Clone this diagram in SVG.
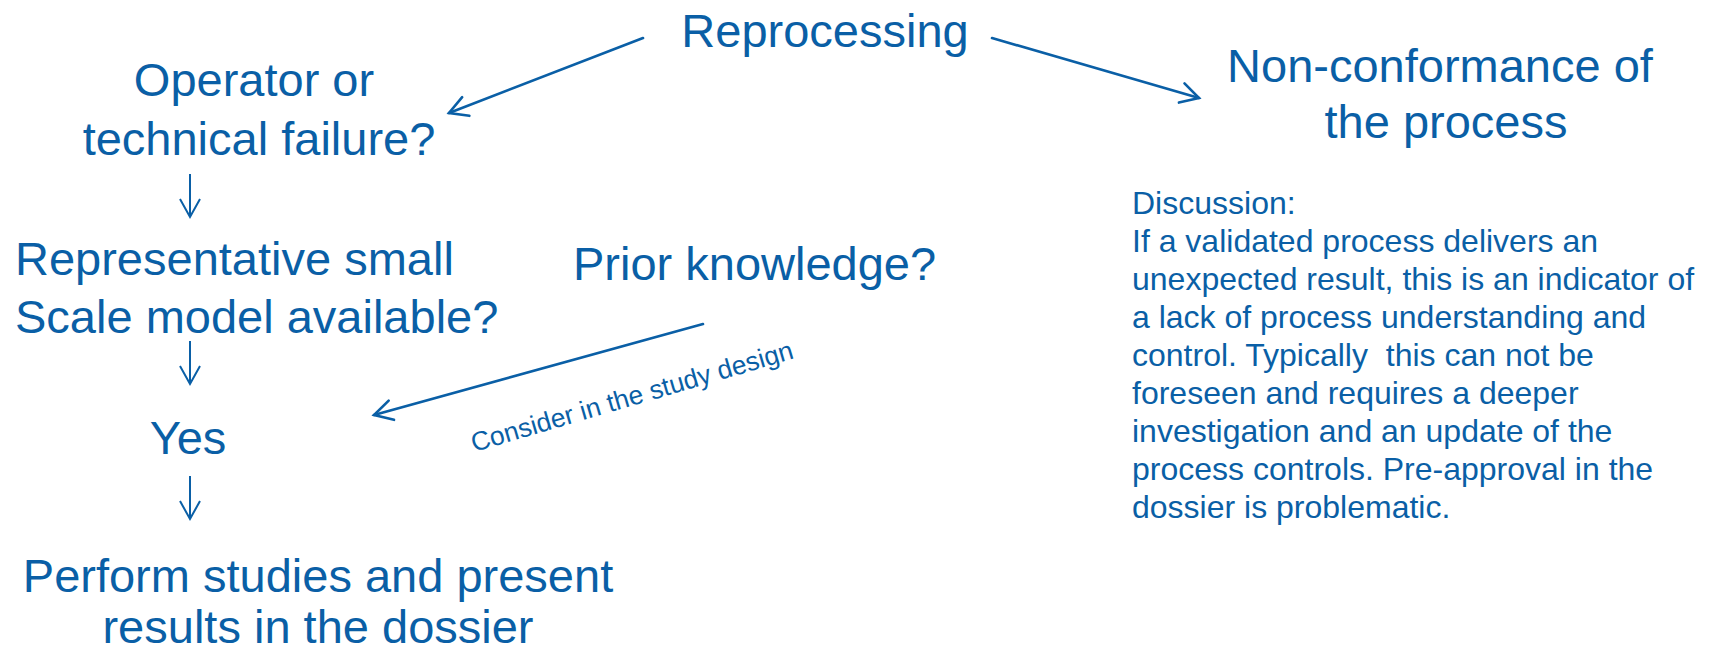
<svg xmlns="http://www.w3.org/2000/svg" width="1710" height="653" viewBox="0 0 1710 653">
  <style>
    text { font-family: "Liberation Sans", Arial, sans-serif; fill: #0a5fa6; white-space: pre; }
    .big { font-size: 47px; }
    .mid { text-anchor: middle; }
    .note { font-size: 32px; }
    .small { font-size: 26.5px; }
    .link { fill: none; stroke: #0a5fa6; stroke-width: 2.6; stroke-linecap: round; }
    .step { fill: none; stroke: #0a5fa6; stroke-width: 2; }
  </style>
  <defs>
    <marker id="head" markerUnits="userSpaceOnUse" markerWidth="40" markerHeight="40" refX="0" refY="0" orient="auto" overflow="visible">
      <path d="M -18 -10 L 0 0 L -18 10" fill="none" stroke="#0a5fa6" stroke-width="2.6" stroke-linecap="round" stroke-linejoin="miter"/>
    </marker>
    <marker id="headThin" markerUnits="userSpaceOnUse" markerWidth="40" markerHeight="40" refX="0" refY="0" orient="auto" overflow="visible">
      <path d="M -18 -10 L 0 0 L -18 10" fill="none" stroke="#0a5fa6" stroke-width="2" stroke-linejoin="miter"/>
    </marker>
  </defs>

  <rect width="1710" height="653" fill="#ffffff"/>

  <g id="connectors">
    <line class="link" x1="643" y1="38" x2="449" y2="113" marker-end="url(#head)"/>
    <line class="link" x1="992" y1="38" x2="1199" y2="98" marker-end="url(#head)"/>
    <line class="step" x1="190" y1="174" x2="190" y2="217" marker-end="url(#headThin)"/>
    <line class="step" x1="190" y1="341" x2="190" y2="384" marker-end="url(#headThin)"/>
    <line class="step" x1="190" y1="476" x2="190" y2="519" marker-end="url(#headThin)"/>
    <line class="link" x1="703" y1="324" x2="374" y2="415" marker-end="url(#head)"/>
    <text class="small" transform="translate(474 452) rotate(-16.3)">Consider in the study design</text>
  </g>

  <g id="reprocessing">
    <text class="big mid" x="825" y="47">Reprocessing</text>
  </g>

  <g id="operator-failure">
    <text class="big mid" x="254" y="96">Operator or</text>
    <text class="big mid" x="259" y="155">technical failure?</text>
  </g>

  <g id="small-scale-model">
    <text class="big" x="15" y="275">Representative small</text>
    <text class="big" x="15" y="333">Scale model available?</text>
  </g>

  <g id="yes">
    <text class="big mid" x="188" y="454">Yes</text>
  </g>

  <g id="perform-studies">
    <text class="big mid" x="318" y="592">Perform studies and present</text>
    <text class="big mid" x="318" y="643">results in the dossier</text>
  </g>

  <g id="prior-knowledge">
    <text class="big" x="573" y="280">Prior knowledge?</text>
  </g>

  <g id="non-conformance">
    <text class="big mid" x="1440" y="82">Non-conformance of</text>
    <text class="big mid" x="1446" y="138">the process</text>
  </g>

  <g id="discussion">
    <text class="note" x="1132" y="214">Discussion:</text>
    <text class="note" x="1132" y="252">If a validated process delivers an</text>
    <text class="note" x="1132" y="290">unexpected result, this is an indicator of</text>
    <text class="note" x="1132" y="328">a lack of process understanding and</text>
    <text class="note" x="1132" y="366">control. Typically  this can not be</text>
    <text class="note" x="1132" y="404">foreseen and requires a deeper</text>
    <text class="note" x="1132" y="442">investigation and an update of the</text>
    <text class="note" x="1132" y="480">process controls. Pre-approval in the</text>
    <text class="note" x="1132" y="518">dossier is problematic.</text>
  </g>
</svg>
